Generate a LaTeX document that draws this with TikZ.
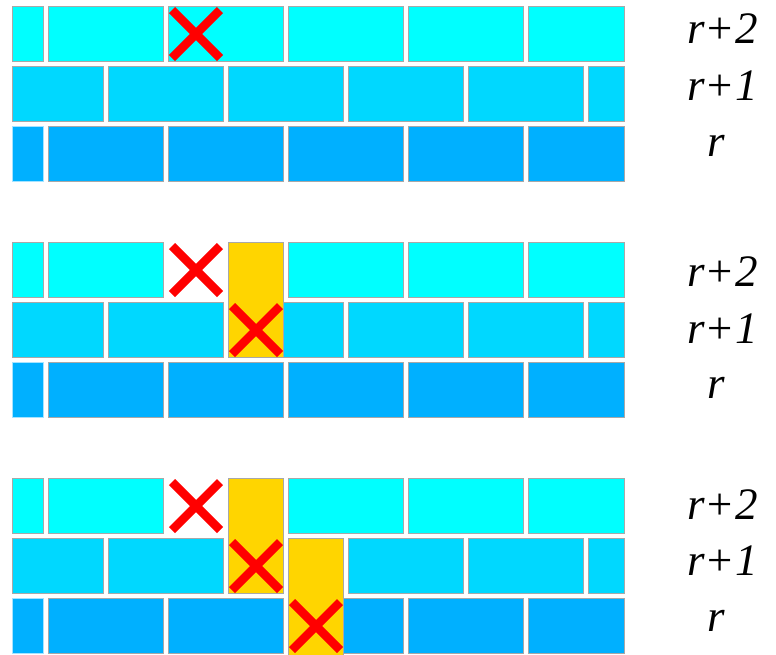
\documentclass[tikz,border=0pt]{standalone}
\usepackage{fontspec}
\setmainfont{Liberation Serif}
\definecolor{ctop}{HTML}{00FFFF}
\definecolor{cmid}{HTML}{00D8FF}
\definecolor{cbot}{HTML}{00B0FF}
\definecolor{cyel}{HTML}{FFD500}
\definecolor{cedge}{HTML}{A8A8A8}
\definecolor{cred}{HTML}{FF0000}
\tikzset{
  brick/.style={draw=cedge, line width=1.2pt},
  cross/.style={draw=cred, line width=8.5pt, line cap=butt},
  lbl/.style={font=\fontsize{45}{45}\selectfont\itshape, anchor=base west, inner sep=0pt}
}
% \brk{color}{x1}{x2}{y1}{y2}
\newcommand{\brk}[5]{\fill[#1,brick] (#2+0.6,#4+0.6) rectangle (#3-0.6,#5-0.6);}
\newcommand{\crx}[4]{\draw[cross] (#1+4,#3+4) -- (#2-4,#4-4); \draw[cross] (#2-4,#3+4) -- (#1+4,#4-4);}
\begin{document}
\begin{tikzpicture}[x=1pt,y=-1pt]
\useasboundingbox (0,0) rectangle (776,654);
\fill[white] (0,0) rectangle (776,654);
\foreach \o [count=\p] in {0,236,472}{
  % row r+2
  \foreach \a/\b in {12/44,48/164,288/404,408/524,528/625}{
    \brk{ctop}{\a}{\b}{\o+6}{\o+62}
  }
  \ifnum\p=1 \brk{ctop}{168}{284}{\o+6}{\o+62} \fi
  % row r+1
  \foreach \a/\b in {12/104,108/224,348/464,468/584,588/625}{
    \brk{cmid}{\a}{\b}{\o+66}{\o+122}
  }
  \ifnum\p<3 \brk{cmid}{228}{344}{\o+66}{\o+122} \fi
  % row r
  \foreach \a/\b in {48/164,168/284,288/404,408/524,528/625}{
    \brk{cbot}{\a}{\b}{\o+126}{\o+182}
  }
  \fill[cbot, draw=cbot!35!white, line width=1.2pt] (12.6,\o+126.6) rectangle (43.4,\o+181.4);
}
% panel 1 cross
\crx{168}{224}{6}{62}
% panel 2
\brk{cyel}{228}{284}{242}{358}
\crx{168}{224}{242}{298}
\crx{228}{284}{302}{358}
% panel 3
\brk{cyel}{228}{284}{478}{594}
\brk{cyel}{288}{344}{538}{656}
\crx{168}{224}{478}{534}
\crx{228}{284}{538}{594}
\crx{288}{344}{598}{654}
% labels
\node[lbl] (a2) at (687,43) {r+2};
\node[lbl] (a1) at (687,100) {r+1};
\node[lbl] (a0) at (707,156) {r};
\node[lbl] (b2) at (687,286) {r+2};
\node[lbl] (b1) at (687,343) {r+1};
\node[lbl] (b0) at (707,398) {r};
\node[lbl] (c2) at (687,519) {r+2};
\node[lbl] (c1) at (687,575) {r+1};
\node[lbl] (c0) at (707,631) {r};
\end{tikzpicture}
\end{document}
